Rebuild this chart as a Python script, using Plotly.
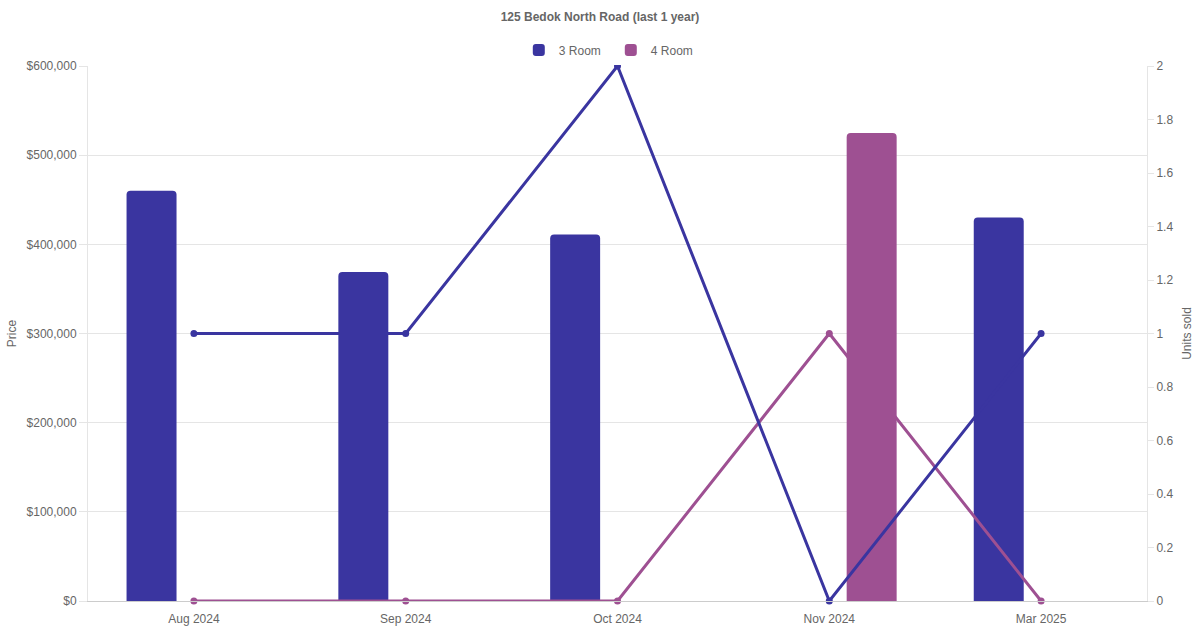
import plotly.graph_objects as go

months = ["Aug 2024", "Sep 2024", "Oct 2024", "Nov 2024", "Mar 2025"]
price_3room = [460000, 369000, 411000, None, 430000]
price_4room = [None, None, None, 525000, None]
units_3room = [1, 1, 2, 0, 1]
units_4room = [0, 0, 0, 1, 0]

BLUE = "#3a35a0"
PURPLE = "#9e5092"
GRID = "#e5e5e5"
TXT = "#666666"
FONT = "Liberation Sans, Arial, sans-serif"

fig = go.Figure()

# bottom-most: 3 Room bars (price axis)
fig.add_trace(go.Bar(
    x=months, y=price_3room, name="3 Room", marker=dict(color=BLUE, line=dict(width=0)),
    width=0.236, offset=-0.318, yaxis="y", legendgroup="3r", showlegend=True,
))
# 4 Room line (units axis)
fig.add_trace(go.Scatter(
    x=months, y=units_4room, mode="lines+markers", name="4 Room",
    line=dict(color=PURPLE, width=3), marker=dict(color=PURPLE, size=7),
    yaxis="y2", cliponaxis=False, legendgroup="4r", showlegend=False,
))
# 4 Room bars (price axis, overlay matching y)
fig.add_trace(go.Bar(
    x=months, y=price_4room, name="4 Room", marker=dict(color=PURPLE, line=dict(width=0)),
    width=0.236, offset=0.082, yaxis="y3", legendgroup="4r", showlegend=True,
))
# top-most: 3 Room line (units axis overlay)
fig.add_trace(go.Scatter(
    x=months, y=units_3room, mode="lines+markers", name="3 Room",
    line=dict(color=BLUE, width=3), marker=dict(color=BLUE, size=7),
    yaxis="y4", cliponaxis=False, legendgroup="3r", showlegend=False,
))

fig.update_layout(
    width=1200, height=630, autosize=False,
    paper_bgcolor="white", plot_bgcolor="white",
    font=dict(family=FONT, size=12, color=TXT),
    margin=dict(l=88, r=53, t=66, b=29, autoexpand=False),
    barcornerradius=4,
    title=dict(text="<b>125 Bedok North Road (last 1 year)</b>", x=0.5, xanchor="center",
               xref="container", y=1 - 17 / 630, yanchor="middle", yref="container",
               font=dict(size=12, color=TXT)),
    legend=dict(orientation="h", x=0.509, xanchor="center", xref="container",
                y=1 - 50 / 630, yanchor="middle", yref="container",
                font=dict(size=12, color=TXT), traceorder="normal", itemwidth=30,
                entrywidth=47, entrywidthmode="pixels"),
    showlegend=True,
    xaxis=dict(type="category", showgrid=False, showline=True, linecolor="#cccccc",
               linewidth=1, ticks="outside", ticklen=7, tickcolor="rgba(0,0,0,0)",
               tickfont=dict(size=12, color=TXT), zeroline=False),
    yaxis=dict(range=[0, 600000], dtick=100000, tickprefix="$", tickformat=",",
               showgrid=True, gridcolor=GRID, showline=True, linecolor=GRID,
               ticks="outside", ticklen=8, tickcolor=GRID, zeroline=False,
               title=dict(text="Price", standoff=7, font=dict(size=12, color=TXT)),
               tickfont=dict(size=12, color=TXT)),
    yaxis2=dict(range=[0, 2], dtick=0.2, overlaying="y", side="right", showgrid=False,
                showline=True, linecolor=GRID, ticks="outside", ticklen=6, tickcolor=GRID,
                zeroline=False,
                title=dict(text="Units sold", standoff=10, font=dict(size=12, color=TXT)),
                tickfont=dict(size=12, color=TXT)),
    yaxis3=dict(matches="y", overlaying="y", visible=False, showgrid=False, zeroline=False),
    yaxis4=dict(matches="y2", overlaying="y", visible=False, showgrid=False, zeroline=False),
)

post = (
    "document.documentElement.style.margin='0';"
    "document.body.style.margin='0';"
    "document.body.style.padding='0';"
    "document.body.style.overflow='hidden';"
    "var gd=document.getElementById('{plot_id}');"
    "Plotly.relayout(gd,{width:1200,height:630});"
)

fig.write_html("out.html", post_script=post, config={"displayModeBar": False})
